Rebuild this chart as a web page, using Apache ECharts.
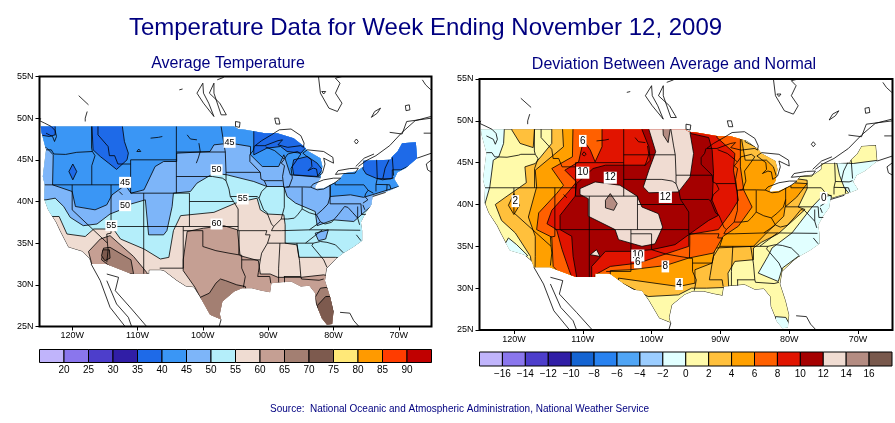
<!DOCTYPE html>
<html>
<head>
<meta charset="utf-8">
<style>html,body{margin:0;padding:0;background:#fff}#main{width:895px;height:423px}</style>
<script src="https://cdn.jsdelivr.net/npm/echarts@6/dist/echarts.min.js"></script>
</head>
<body>
<div id="main"></div>
<script>
// all map data is [lon, lat]
const lonTicks = [-120, -110, -100, -90, -80, -70];

const tempLevels = [20, 25, 30, 35, 40, 45, 50, 55, 60, 65, 70, 75, 80, 85, 90];
const tempColors = ['#c0b4fb', '#8a76ed', '#4d3ecb', '#301ea6', '#1e6ae8', '#3a96f5', '#7db5f9', '#b4eefa',
  '#efdcd2', '#c59f93', '#a37f72', '#7d5a4e', '#ffe878', '#ff9a00', '#ff3c00', '#c00000'];
const devLevels = [-16, -14, -12, -10, -8, -6, -4, -2, 0, 2, 4, 6, 8, 10, 12, 14, 16];
const devColors = ['#c0b4fb', '#8a76ed', '#4d3ecb', '#301ea6', '#1464d2', '#2882f0', '#50a5f5', '#9bcdff', '#e1ffff',
  '#fffaaa', '#ffc03c', '#ffa000', '#ff6000', '#e11400', '#a50000', '#f0dcd2', '#b48c82', '#78584c'];

const usOutline = [[-124.8,49],[-95.2,49],[-94.6,48.7],[-93.5,48.6],[-92,48.4],[-90.5,48.2],[-88.6,48.2],[-86.1,47.6],
  [-84.5,46.6],[-84,46.1],[-82,45.2],[-81.7,44.2],[-82,42.8],[-82.8,41.8],[-82.8,41.5],[-81.5,41.6],[-80.2,42.1],
  [-79.2,42.5],[-78.4,43.4],[-76.5,43.6],[-75.4,44.2],[-75.4,44.9],[-71.3,45],[-71,45.4],[-70.2,46],[-69.5,47],
  [-67.4,47.1],[-67.2,45.2],[-69,44],[-70.2,43.5],[-70.7,42.7],[-70,41.8],[-71.5,41.3],[-74,40.7],[-74.2,39.6],
  [-75.1,38.6],[-75.8,37.5],[-75.6,36.5],[-75.6,35.3],[-77,34.5],[-78.5,33.8],[-79.5,33.2],[-81,32],[-81.3,30.5],
  [-80.5,28.5],[-80,26.8],[-80.2,25.3],[-81,25.2],[-81.8,26],[-82.7,27.8],[-82.8,29],[-83.7,29.9],[-85,29.8],
  [-86.5,30.4],[-88,30.3],[-89.5,30.2],[-89.7,29.1],[-91,29.3],[-92.5,29.6],[-94,29.6],[-95.2,29.2],[-97,28],
  [-97.4,26.5],[-97.2,25.85],[-98.9,26.4],[-100.4,28.5],[-101.4,29.7],[-102.6,29.8],[-104,30.5],[-106,31.7],
  [-106.5,31.75],[-108.2,31.75],[-108.2,31.33],[-111,31.33],[-114.8,32.5],[-117.1,32.5],[-117.4,33.2],[-118.5,34],
  [-120.6,34.5],[-121.9,36.5],[-122.5,37.5],[-123.7,39],[-124.3,40.3],[-124.2,42],[-124.5,43],[-124,46.2],[-124.7,48.3]];

const stateLines = [
  [[-124,46.2],[-123.2,46.2],[-122.8,45.7],[-121,45.65],[-119.3,45.9],[-119,46],[-116.9,46]],
  [[-117.03,49],[-117.03,46.4],[-116.9,46],[-116.5,45.5],[-117,44.3],[-117,42]],
  [[-124.2,42],[-111.05,42]],
  [[-120,42],[-120,39],[-114.6,35],[-114.5,34.2],[-114.7,32.7]],
  [[-114.05,42],[-114.05,36.2],[-114.7,36.1],[-114.6,35]],
  [[-116.05,49],[-116.05,48],[-114.5,46.6],[-114.3,45.5],[-113.5,45.5],[-113,44.5],[-111.05,44.5]],
  [[-111.05,45],[-111.05,41],[-102.05,41]],
  [[-111.05,45],[-104.05,45]],
  [[-104.05,49],[-104.05,41]],
  [[-114.05,37],[-94.6,37]],
  [[-109.05,41],[-109.05,31.33]],
  [[-102.05,41],[-102.05,37]],
  [[-102.05,40],[-95.3,40]],
  [[-103,37],[-103,32],[-106.6,32]],
  [[-103,36.5],[-100,36.5],[-100,34.6],[-98,34.1],[-96,33.8],[-94.5,33.6],[-94.05,33.55],[-94.05,32],[-93.5,31],[-93.8,29.7]],
  [[-94.45,36.5],[-94.45,35.4],[-94.5,33.6]],
  [[-94.6,39.1],[-94.6,36.5]],
  [[-96.45,42.5],[-96,41.5],[-95.8,40.6],[-95.3,40],[-94.6,39.1]],
  [[-104.05,45.94],[-96.56,45.94]],
  [[-104.05,43],[-98.5,43],[-97,42.8],[-96.45,42.5],[-96.45,43.5],[-96.56,45.94],[-96.8,47],[-97.2,49]],
  [[-96.45,43.5],[-91.2,43.5]],
  [[-92.1,46.7],[-92.3,46.1],[-92.8,45.6],[-92.8,44.8],[-91.2,43.5],[-91.1,42.7],[-90.6,42.5],[-87.8,42.5]],
  [[-90.6,42.5],[-90.2,41.8],[-91,41.2],[-91.4,40.4],[-90.7,39],[-90.2,38.7],[-89.5,37.3],[-89.15,37],[-89.5,36.5]],
  [[-95.8,40.6],[-91.7,40.6],[-91.4,40.4]],
  [[-94.6,36.5],[-90.2,36.5],[-90.4,36],[-89.7,36],[-90.1,35],[-91,33.8],[-91.2,33],[-91.5,31.5],[-91.6,31],[-89.75,31],[-89.6,30.2]],
  [[-94.05,33],[-91.2,33]],
  [[-89.5,36.5],[-88,36.5],[-88,36.65],[-83.7,36.6],[-81.7,36.6],[-75.9,36.55]],
  [[-90.1,35],[-84.3,35],[-83,35.8],[-81.7,36.6]],
  [[-88.2,35],[-88.4,32],[-88.4,30.3]],
  [[-85.6,35],[-85.2,32.9],[-85,31],[-84.9,30.7],[-82.2,30.55],[-81.5,30.7]],
  [[-87.6,31],[-85,31]],
  [[-87.5,31],[-87.5,30.3]],
  [[-84.3,35],[-83.1,35],[-83.3,34.7],[-81.5,33],[-81,32.1]],
  [[-83.1,35],[-82,35.2],[-81,35.1],[-79.7,34.8],[-78.5,33.85]],
  [[-89.15,37],[-88,37.9],[-87,37.9],[-86,38],[-85.5,38.4],[-84.8,39.1],[-83.7,38.65],[-82.6,38.4],[-82,37.55],[-83.7,36.6]],
  [[-82.6,38.4],[-81.7,39],[-80.85,39.7],[-80.52,40.6]],
  [[-87.53,41.7],[-87.53,39.3],[-88,37.9]],
  [[-84.8,41.7],[-84.8,39.1]],
  [[-87.2,41.75],[-84.8,41.75],[-83.5,41.72]],
  [[-80.52,42],[-80.52,39.72],[-75.8,39.72]],
  [[-79.76,42.25],[-79.76,42],[-75.35,42],[-74.7,41.35],[-75.1,40.9],[-75.2,40.6],[-74.75,40.2],[-75.5,39.8]],
  [[-74.7,41.35],[-73.9,41]],
  [[-73.5,41.2],[-73.5,42.05],[-73.3,42.75],[-73.4,45]],
  [[-73.5,42.05],[-71.8,42.02],[-71.4,42],[-71.2,41.5]],
  [[-71.8,42.02],[-71.85,41.3]],
  [[-73.3,42.75],[-71.3,42.7],[-70.8,42.85]],
  [[-72.45,42.73],[-72.1,44],[-71.5,45]],
  [[-70.8,43.1],[-71,45.3]],
  [[-82,37.55],[-81.3,37.3],[-80.3,37.5],[-79.3,38.4],[-78.3,39.4],[-77.8,39.3],[-77.1,38.7],[-76.3,38]],
  [[-75.8,39.72],[-75.7,38.45],[-75.05,38.45]],
  [[-90.4,46.55],[-89,46.1],[-87.8,45.3],[-87.6,45.1]]
];

const waterLines = [
  [[-92,46.7],[-90.5,46.7],[-88.5,47.3],[-87.8,47.4],[-88.5,46.8],[-87,46.5],[-85,46.7],[-84.6,46.5],[-84.5,47],[-85,47.9],[-86.5,48.7],[-88.3,48.6],[-89.5,48],[-91,47.3],[-92,46.7]],
  [[-87.6,41.7],[-86.8,41.75],[-86.3,42.8],[-86.5,44],[-85.6,45],[-85,45.7],[-85.5,46],[-87,45.7],[-87.6,45],[-88,44.6],[-87.5,44.3],[-87.8,43],[-87.6,41.7]],
  [[-84.7,45.8],[-83.4,45],[-83.3,44.2],[-83.9,43.7],[-83.1,44],[-82.6,43.9],[-82.4,43],[-81.7,43.4],[-81.3,44.5],[-81.5,45.2],[-80,44.6],[-80.1,45.3],[-81.5,46],[-84,46.2],[-84.7,45.8]],
  [[-83.5,41.72],[-82.5,41.4],[-81.5,41.5],[-79.8,42.25],[-78.9,42.8],[-80,42.8],[-81.5,42.6],[-83.1,42.1],[-83.5,41.72]],
  [[-79.7,43.25],[-78.5,43.35],[-76.7,43.4],[-76.2,44],[-77.5,43.95],[-79.3,43.7],[-79.7,43.25]],
  [[-76.2,44.2],[-75,44.9],[-73.5,45.5],[-71.4,46.7],[-69.5,48.3],[-67.5,49.7],[-65.1,50.2]],
  [[-76.6,44.2],[-75.3,45.2],[-73.8,45.7]],
  [[-71.4,48.3],[-69.5,48.1],[-68.8,49.6],[-65,50]],
  [[-66.2,48.2],[-65,48.2]],
  [[-67.2,45.2],[-65,45.8]],
  [[-65,45],[-65.8,44.5],[-65.6,43.8],[-65,43.5]],
  [[-82.3,55],[-82,53],[-80.7,51.2],[-79.4,50.8],[-78.7,51.8],[-79.7,53],[-79,54.2],[-79.7,54.8],[-78.7,55]],
  [[-81.8,53.2],[-81.2,53.2],[-81.5,52.9],[-81.8,53.2]],
  [[-100,54.2],[-100.9,53],[-99.9,51.8],[-98.3,50.2],[-99.1,51.8],[-99.9,53],[-100,54.2]],
  [[-98.3,54.2],[-99,53],[-97.4,51.8],[-96.4,50.4],[-97.2,50.4],[-98.3,53],[-98.3,54.2]],
  [[-97.8,54.6],[-96.8,54.9]],
  [[-103.6,53.4],[-103.1,53.5]],
  [[-89,50],[-88.4,50],[-88.2,49.3],[-88.8,49.3],[-89,50]],
  [[-95,49.6],[-94.3,49.5],[-94.4,48.9],[-95,49],[-95,49.6]],
  [[-108,47.6],[-106.8,47.7],[-106.2,47.8]],
  [[-102.4,48],[-101.9,47.5],[-100.9,47.4]],
  [[-100.6,47],[-100.4,46],[-100.7,45.2],[-101,44.6]],
  [[-112.8,41.2],[-112.3,40.8]],
  [[-110.1,46],[-109.8,46.3],[-109.5,46],[-109.8,45.8],[-110.1,46]],
  [[-119,52.7],[-117.5,51.6]],
  [[-117.7,50.8],[-118,50],[-118,49.6]],
  [[-124.8,50],[-125,49.7],[-124.2,49.4],[-123.2,49],[-122.6,48.5],[-122.4,47.8],[-122.7,47.2],[-123,47.8],[-124,48.2]],
  [[-117.1,32.5],[-115.7,30.5],[-114.2,27.3],[-111.9,25]],
  [[-114.7,30.5],[-113.2,27.7],[-111.4,26.1],[-110.9,25]],
  [[-114.7,31.3],[-112.9,30.9],[-113.4,29.3],[-110.9,27.1],[-108.6,25]],
  [[-97.2,25.85],[-97.5,25]],
  [[-79,26.7],[-77.5,26.6],[-76.9,25.7],[-76.1,25]],
  [[-74.2,50.1],[-73.7,50.8],[-72.8,51.2],[-73.3,50.6],[-74.2,50.1]],
  [[-69,51.5],[-68.4,51.6],[-68.3,51],[-68.9,50.9],[-69,51.5]],
  [[-76.5,47.5],[-76.2,47.2],[-76.5,46.9],[-76.8,47.2],[-76.5,47.5]],
  [[-66.4,54.6],[-65.9,54],[-65.1,53.4]],
  [[-74,40.6],[-72,41.1]],
  [[-76.3,39.4],[-76.3,38],[-76,37.2]],
  [[-75.5,39.6],[-75.2,39]],
  [[-76.5,36],[-75.8,35.3]]
];

// average temperature contours
const below55 = [[-130,38.2],[-122,38.2],[-120.8,36.1],[-118,35.8],[-116.7,36.7],[-113.7,36.7],[-112.6,35.5],[-109,34.3],
  [-106.5,33.1],[-105.2,33.3],[-104.5,36.5],[-103.4,38.3],[-98.3,38.7],[-95,39.8],[-91.7,40.4],[-91.2,39],[-90.2,38.5],
  [-87.6,38.4],[-87.4,37.2],[-87.4,35],[-85.6,34.8],[-85.3,33.3],[-79.7,33.3],[-76,33],[-66,33],[-66,60],[-130,60]];
const below50 = [[-130,40.2],[-124,40.2],[-122.6,40.4],[-121.3,39.4],[-120.3,38.1],[-118.3,37.1],[-116.2,37.3],[-114.2,38.5],
  [-111.9,39.2],[-111,39.7],[-108.8,40.2],[-108.3,36],[-106,36],[-105.5,36.5],[-104.7,39.4],[-104.5,41],[-101.9,41.2],
  [-100.9,42.2],[-98.3,43.4],[-96.3,43.2],[-92.2,42.4],[-90.2,41.8],[-87.6,41.8],[-87.1,40.6],[-85.8,39.8],[-82.8,38.8],
  [-82.5,37.1],[-80,37.8],[-76.9,37.6],[-74.3,39.4],[-66,39.4],[-66,60],[-130,60]];
const below50Pocket = [[-82.8,36.2],[-80.8,36.6],[-81.2,35.5],[-82.3,35.3]];
const below45 = [[-126,50],[-60,50],[-60,41.8],[-70,41.8],[-74.1,40.8],[-75.4,40.5],[-77.4,40.8],[-80.5,40.6],[-80.5,41.8],
  [-81.7,42.9],[-86.6,43.2],[-87.6,45.6],[-88.4,44.2],[-90.9,44.2],[-92.7,45.6],[-92.7,46.6],[-95.8,47],[-98.3,46.8],
  [-98.9,46],[-104,45.8],[-104,44.8],[-106,44.8],[-107.3,44.2],[-109,41.4],[-111,41],[-111.9,42],[-112.5,41.6],[-113.9,40.8],
  [-114.7,39.6],[-116.5,39],[-119.5,39.4],[-120,41.2],[-123,42],[-122.9,45.6],[-124,46.5],[-126,46.5]];
const below40Idaho = [[-117,49.5],[-112.4,49.5],[-112,47.2],[-111.4,45.8],[-111.6,45],[-113.2,43.85],[-114.4,44.6],[-115.7,45.4],[-116.8,46.2]];
const below40Oregon = [[-119.9,44.5],[-119.3,43.6],[-119.9,42.6],[-120.5,43.6]];
const below40Puget = [[-125,49.5],[-122.6,49.5],[-122.6,48],[-123.5,47.8],[-125,48]];
const below40Superior = [[-92.2,45.6],[-92.2,50],[-83,50],[-84.3,46.4],[-85,45.8],[-87.1,46],[-88.1,46.6],[-90.2,46.4]];
const below40Michigan = [[-86.3,44.2],[-86.1,45],[-84,45.4],[-82.5,44.6],[-81.7,43.8],[-82.5,43],[-86.1,43.2]];
const below40East = [[-75.4,45.2],[-71.3,45.2],[-71,45.8],[-69.5,47.5],[-66.5,47.5],[-66.5,45],[-69.7,43.8],[-71,43.8],[-71,42.8],
  [-72.5,42.6],[-73.5,42.8],[-75,43.3],[-75.5,43.9]];
const above60South = [[-102.4,36.4],[-99.9,36.8],[-96.8,37.1],[-94.7,36.6],[-94.3,33.5],[-91.5,32.9],[-91.2,31.3],[-89.7,31.3],
  [-88.5,30.9],[-85,30.9],[-81.5,31.2],[-81,31.1],[-80,30],[-79,25],[-100,25],[-100.4,28.5],[-101.2,29.7],[-103,31.7],[-103,33]];
const above60West = [[-117.5,34],[-115.7,35.5],[-114.2,35.9],[-110.6,33.4],[-108.6,31.5],[-108,30],[-117,30],[-117,32.5]];
const above65West = [[-115.5,33],[-115.2,34.4],[-114.2,34.5],[-111,33],[-110.6,31.3],[-113,31.5]];
const above70West = [[-115.5,33.5],[-115.3,34.2],[-114.3,34.2],[-114.2,33.2],[-115,32.9]];
const above65Texas = [[-100.4,28.5],[-99,29],[-98,30.2],[-97.3,30.7],[-96.5,30.5],[-94.8,30],[-93.5,29.8],[-93,28],[-97,25],[-100,25]];
const above65Florida = [[-82.8,28.5],[-82,29.6],[-81,29.7],[-79.5,28],[-79.5,25],[-82,25]];
const above70Florida = [[-82.5,27.5],[-81.2,28.6],[-80.4,28.6],[-79.5,25],[-82,25]];

// deviation contours
const devBelow0West = [[-126,49.5],[-121.4,49.5],[-121.4,48.9],[-121.5,47.3],[-122.2,45.7],[-123,45.3],[-123.5,42.1],[-124.2,40.1],[-126,40]];
const devBelow0Calif = [[-120.8,36],[-119.6,35.2],[-118,33.9],[-120,33],[-121.5,35]];
const devBelow0South = [[-75.3,40.9],[-76.7,39.7],[-79.6,36.6],[-82.5,34.8],[-83.1,33.8],[-84.5,31.8],[-81.6,30.8],[-81,32.4],
  [-78.7,33.8],[-75.3,33],[-73.9,39.7],[-73.9,41.1]];
const devBelow0North = [[-73.1,45],[-70.7,44.9],[-67,45.3],[-67,44],[-69,43.2],[-70,41],[-71,41],[-72,42],[-72.7,43.5]];
const devBelow0Florida = [[-82,26.6],[-80.5,26.5],[-79.5,25],[-82,25]];
const devAbove2North = [[-120.3,50],[-120.3,48.9],[-119.1,47.3],[-117.2,46.8],[-116.9,50]];
const devAbove2 = [[-114.5,50],[-114.5,47.3],[-116.9,44.9],[-118.4,44.5],[-118.2,42.6],[-121,41],[-122.7,40],[-121.8,38.1],[-119.8,36.6],
  [-117.6,33.8],[-117,30],[-104.3,30],[-104.3,30.6],[-102.4,29.8],[-100.5,29],[-96.1,29.2],[-94.2,30],[-92,30],[-88.8,30.1],[-88.9,31.8],
  [-87.9,33.2],[-85.2,33.4],[-85.2,34.8],[-84,35.5],[-81.6,36.5],[-77.7,39.4],[-78.7,39.7],[-77.4,41.9],[-77.4,42.9],[-79.1,43.1],
  [-82,45.3],[-84,46.5],[-86.4,47.5],[-86.4,50]];
const devAbove4 = [[-113,50],[-112.8,46.9],[-116.9,44.1],[-116.7,42.1],[-117.9,38.5],[-116.9,36.2],[-116.9,33.8],[-117,30],[-104.8,30],
  [-104.8,31.2],[-96.1,30.2],[-93.7,30.6],[-93.7,32.2],[-91.2,33],[-90.8,34.8],[-85.2,35],[-83.3,36.6],[-80.8,38.6],[-80.6,39.7],
  [-78.9,40.9],[-77.4,42.5],[-81.6,42.7],[-82.3,44.5],[-83.3,45.3],[-86.4,45.3],[-86.9,47.7],[-86.9,50]];
const devAbove4Ring = [[-120,41.3],[-119.2,39.9],[-120,38.8],[-120.8,39.9]];
const devAbove6 = [[-111.4,50],[-111.5,45.7],[-114.5,44.3],[-112.8,42.3],[-113.8,41.3],[-116.4,39],[-116.7,37],[-114.5,36.1],[-114.3,32.6],
  [-111.3,30],[-106,30],[-106,32.1],[-103.1,32.2],[-98,32.7],[-94.6,33.6],[-91,34.2],[-89.6,36.2],[-87.4,37.4],[-85.4,39.7],[-86.6,41.7],
  [-87.1,44.5],[-87.1,47.7],[-87.1,50]];
const devAbove8 = [[-107.2,50],[-107.2,46.9],[-108.2,45.1],[-108.9,46.5],[-109.9,47.7],[-110.6,45.1],[-112.6,44.1],[-110.9,42.7],[-112.1,41.5],
  [-114.5,39.3],[-115.2,37.7],[-113.8,37],[-113,34.6],[-112,32.2],[-111,30],[-108.2,30],[-108.2,31.6],[-106,32.6],[-101.9,33],[-99,33.8],
  [-94.6,35],[-94.6,36.4],[-90.3,37],[-88.6,38.9],[-87.4,40.5],[-88.1,44.1],[-87.9,46.1],[-90.5,48],[-90.5,50]];
const devAbove10 = [[-101.9,50],[-100.4,46.9],[-100.2,45.3],[-100.9,44.7],[-106.7,44.7],[-108.5,44.3],[-110.9,42.5],[-111.1,41],[-113.3,38.7],
  [-113.3,37],[-111.6,36.2],[-111.4,33.8],[-110.6,30],[-108.7,30],[-108.7,32.6],[-106.7,34.4],[-102.9,34.4],[-100,34.6],[-96.6,35.2],[-94.6,36.4],
  [-91.7,38.1],[-90.3,38.7],[-91.2,40.5],[-91,43.7],[-91.2,46.5],[-91.7,48],[-94.4,48.5],[-94.4,50]];
const devAbove12North = [[-100.4,50],[-100.4,49],[-99.4,46.3],[-100.4,44.1],[-101.2,42.1],[-100.4,41.4],[-96.1,41.5],[-94.4,43.3],[-93.9,46.1],[-94.4,48.5],[-94.4,50]];
const devAbove12Centre = [[-110.4,41.9],[-108.2,42.7],[-104.6,42.3],[-102.1,41],[-101.4,39.7],[-99,38.9],[-98.4,37.3],[-99.5,35.3],[-101.4,35],
  [-104.8,35.8],[-105.3,37],[-109.2,38.6],[-109.2,40.7],[-110.4,41.2]];
const devAbove12Small = [[-108.9,34],[-108,34.6],[-107.5,33.8]];
const devAbove14Centre = [[-106,41.3],[-105,40.1],[-105.5,39.3],[-106.7,39.6],[-106.7,40.5]];
const devAbove14North = [[-98.4,50],[-97.1,50],[-97.6,47.4],[-98.3,48.3]];

const tempLabels = [[-95.9,47.1,'45'],[-97.9,43.8,'50'],[-111.9,42.3,'45'],[-111.9,39.5,'50'],[-114,37.1,'55'],[-93.9,40.3,'55'],[-97.9,37.3,'60']];
const devLabels = [[-110,47.6,'6'],[-110,43.8,'10'],[-106,43.2,'12'],[-98,40.9,'12'],[-119.8,40.4,'2'],[-102,33.9,'10'],[-102,33.1,'6'],[-98,32.6,'8'],[-96,30.5,'4'],[-75,40.8,'0']];

const tempBands = [
  [usOutline, 8], [below55, 7], [below50, 6], [below50Pocket, 6], [below45, 5],
  [below40Idaho, 4], [below40Oregon, 4], [below40Puget, 4], [below40Superior, 4], [below40Michigan, 4], [below40East, 4],
  [above60South, 9], [above60West, 9], [above65West, 10], [above70West, 11], [above65Texas, 10], [above65Florida, 10], [above70Florida, 11]
];
const devBands = [
  [usOutline, 9], [devBelow0West, 8], [devBelow0Calif, 8], [devBelow0South, 8], [devBelow0North, 8], [devBelow0Florida, 8],
  [devAbove2North, 10], [devAbove2, 10], [devAbove4, 11], [devAbove4Ring, 11], [devAbove6, 12], [devAbove8, 13], [devAbove10, 14],
  [devAbove12North, 15], [devAbove12Centre, 15], [devAbove12Small, 15], [devAbove14Centre, 16], [devAbove14North, 16]
];

const FONT = '"Liberation Sans", Arial, sans-serif';
const NAVY = '#000080';

function lonName(v) { return Math.abs(v) + 'W'; }

function mapAxes(i) {
  const lab = { fontFamily: FONT, fontSize: 9, color: '#000' };
  return {
    x: {
      type: 'value', gridIndex: i, min: -125, max: -65, position: 'bottom', splitLine: { show: false },
      axisLine: { show: false }, axisTick: { customValues: lonTicks, length: 4, lineStyle: { color: '#000' } },
      axisLabel: Object.assign({ customValues: lonTicks, formatter: lonName, margin: 5 }, lab)
    },
    y: {
      type: 'value', gridIndex: i, min: 25, max: 55, interval: 5, position: 'left', splitLine: { show: false },
      axisLine: { show: false }, axisTick: { length: 4, lineStyle: { color: '#000' } },
      axisLabel: Object.assign({ formatter: v => v + 'N', margin: 6 }, lab)
    }
  };
}

function mapSeries(i, bands, colors, labels, labelSize) {
  const list = [{
    type: 'custom', xAxisIndex: i, yAxisIndex: i, silent: true, animation: false,
    data: bands.map((b, n) => [n]),
    renderItem: function (params, api) {
      const band = bands[params.dataIndex];
      return {
        type: 'polygon',
        shape: { points: band[0].map(p => api.coord(p)) },
        style: { fill: colors[band[1]], stroke: '#000', lineWidth: 0.8 },
        clipPath: { type: 'polygon', shape: { points: usOutline.map(p => api.coord(p)) } }
      };
    }
  }];
  stateLines.concat(waterLines).forEach(function (line) {
    list.push({
      type: 'line', xAxisIndex: i, yAxisIndex: i, data: line, symbol: 'none', silent: true, animation: false,
      lineStyle: { color: '#000', width: 0.8 }
    });
  });
  list.push({
    type: 'scatter', xAxisIndex: i, yAxisIndex: i, data: labels, symbolSize: 1, silent: true, animation: false,
    itemStyle: { color: 'transparent', opacity: 1 }, z: 5,
    label: {
      show: true, position: 'inside', formatter: p => p.value[2], fontFamily: FONT, fontSize: labelSize, color: '#000',
      backgroundColor: '#fff', padding: [1, 1], opacity: 1
    }
  });
  return list;
}

function barAxes(i, levels, colors) {
  return {
    x: {
      type: 'value', gridIndex: i, min: 0, max: colors.length, interval: 1, splitLine: { show: false },
      axisLine: { show: false }, axisTick: { show: false },
      axisLabel: {
        fontFamily: FONT, fontSize: 10, color: '#000', margin: 3, hideOverlap: false,
        formatter: v => (levels[v - 1] === undefined ? '' : String(levels[v - 1]).replace('-', '\u2212'))
      }
    },
    y: { type: 'value', gridIndex: i, min: 0, max: 1, show: false }
  };
}

function barSeries(i, colors) {
  return {
    type: 'custom', xAxisIndex: i, yAxisIndex: i, silent: true, animation: false,
    data: colors.map((c, n) => [n]),
    renderItem: function (params, api) {
      const n = params.dataIndex;
      const a = api.coord([n, 1]), b = api.coord([n + 1, 0]);
      return {
        type: 'rect', shape: { x: a[0], y: a[1], width: b[0] - a[0], height: b[1] - a[1] },
        style: { fill: colors[n], stroke: '#000', lineWidth: 1 }
      };
    }
  };
}

const a0 = mapAxes(0), a1 = mapAxes(1), b0 = barAxes(2, tempLevels, tempColors), b1 = barAxes(3, devLevels, devColors);
const frame = { show: true, borderColor: '#000', borderWidth: 2, backgroundColor: 'transparent' };

const chart = echarts.init(document.getElementById('main'), null, { renderer: 'canvas' });
chart.setOption({
  backgroundColor: '#fff',
  animation: false,
  title: [
    { text: 'Temperature Data for Week Ending November 12, 2009', left: 420.5, top: 11, textAlign: 'center',
      textStyle: { fontFamily: FONT, fontSize: 24, fontWeight: 'normal', color: NAVY } },
    { text: 'Average Temperature', left: 223, top: 51, textAlign: 'center',
      textStyle: { fontFamily: FONT, fontSize: 16, fontWeight: 'normal', color: NAVY } },
    { text: 'Deviation Between Average and Normal', left: 669, top: 52, textAlign: 'center',
      textStyle: { fontFamily: FONT, fontSize: 16, fontWeight: 'normal', color: NAVY } },
    { text: 'Source:  National Oceanic and Atmospheric Administration, National Weather Service', left: 454.5, top: 399, textAlign: 'center',
      textStyle: { fontFamily: FONT, fontSize: 10, fontWeight: 'normal', color: NAVY } }
  ],
  grid: [
    Object.assign({ left: 39.5, top: 76.5, width: 392, height: 250, z: 10 }, frame),
    Object.assign({ left: 479.5, top: 79, width: 413, height: 251, z: 10 }, frame),
    { left: 39.5, top: 349.5, width: 392, height: 13 },
    { left: 479.5, top: 352, width: 413, height: 14 }
  ],
  xAxis: [a0.x, a1.x, b0.x, b1.x],
  yAxis: [a0.y, a1.y, b0.y, b1.y],
  series: mapSeries(0, tempBands, tempColors, tempLabels, 9)
    .concat(mapSeries(1, devBands, devColors, devLabels, 10))
    .concat([barSeries(2, tempColors), barSeries(3, devColors)])
});
</script>
</body>
</html>
